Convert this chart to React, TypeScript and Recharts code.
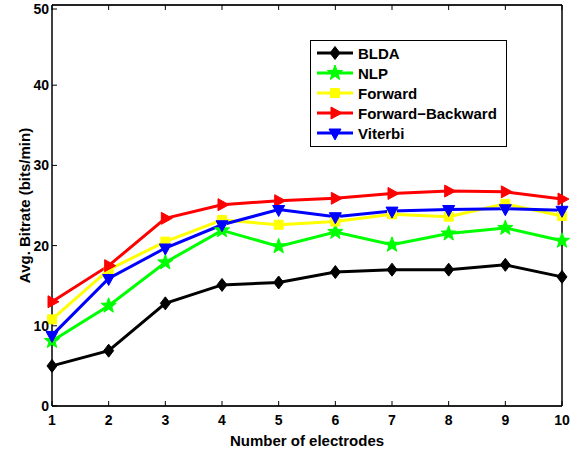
import { LineChart, Line, XAxis, YAxis, CartesianGrid } from 'recharts';

const ELECTRODES = [1, 2, 3, 4, 5, 6, 7, 8, 9, 10];
const BLDA = [5.0, 6.9, 12.8, 15.1, 15.4, 16.7, 17.0, 17.0, 17.6, 16.1];
const NLP = [8.1, 12.5, 17.9, 21.9, 19.9, 21.7, 20.1, 21.5, 22.2, 20.6];
const FORWARD = [10.8, 17.0, 20.5, 23.2, 22.6, 23.0, 23.9, 23.6, 25.2, 23.7];
const FORWARD_BACKWARD = [13.0, 17.5, 23.4, 25.1, 25.6, 25.9, 26.5, 26.8, 26.7, 25.8];
const VITERBI = [8.8, 15.9, 19.7, 22.6, 24.5, 23.6, 24.3, 24.5, 24.6, 24.4];
const Y_TICKS = [0, 10, 20, 30, 40, 50];

const FONT = 'Liberation Sans, Arial, Helvetica, sans-serif';

const data = ELECTRODES.map((n, i) => ({
  n,
  blda: BLDA[i],
  nlp: NLP[i],
  forward: FORWARD[i],
  fb: FORWARD_BACKWARD[i],
  viterbi: VITERBI[i],
}));

type Shape = 'diamond' | 'star' | 'square' | 'right' | 'down';

function markerPath(shape: Shape, cx: number, cy: number) {
  switch (shape) {
    case 'diamond':
      return `M${cx},${cy - 6.5}L${cx + 5},${cy}L${cx},${cy + 6.5}L${cx - 5},${cy}Z`;
    case 'square':
      return `M${cx - 4.5},${cy - 4.5}h9v9h-9Z`;
    case 'right':
      return `M${cx + 7},${cy}L${cx - 4},${cy - 6}L${cx - 4},${cy + 6}Z`;
    case 'down':
      return `M${cx},${cy + 7}L${cx - 6},${cy - 4}L${cx + 6},${cy - 4}Z`;
    case 'star': {
      const pts: string[] = [];
      for (let k = 0; k < 10; k++) {
        const r = k % 2 === 0 ? 8 : 3.3;
        const a = -Math.PI / 2 + (k * Math.PI) / 5;
        pts.push(`${cx + r * Math.cos(a)},${cy + r * Math.sin(a)}`);
      }
      return `M${pts.join('L')}Z`;
    }
  }
}

const SERIES: { key: string; name: string; color: string; shape: Shape }[] = [
  { key: 'blda', name: 'BLDA', color: '#000000', shape: 'diamond' },
  { key: 'nlp', name: 'NLP', color: '#00ff00', shape: 'star' },
  { key: 'forward', name: 'Forward', color: '#ffff00', shape: 'square' },
  { key: 'fb', name: 'Forward\u2212Backward', color: '#ff0000', shape: 'right' },
  { key: 'viterbi', name: 'Viterbi', color: '#0000ff', shape: 'down' },
];

const makeDot = (shape: Shape, color: string) => (props: any) => {
  const { cx, cy, index } = props;
  if (cx == null || cy == null) return <g key={index} />;
  return <path key={index} d={markerPath(shape, cx, cy)} fill={color} stroke={color} strokeWidth={1} />;
};

const BottomTick = (props: any) => {
  const { x, y, payload } = props;
  return (
    <g>
      <line x1={x} x2={x} y1={y} y2={y - 5} stroke="#000" strokeWidth={1} />
      <text x={x} y={y + 19} textAnchor="middle" fontFamily={FONT} fontWeight="bold" fontSize={14} fill="#000">
        {payload.value}
      </text>
    </g>
  );
};

const TopTick = (props: any) => {
  const { x, y } = props;
  return <line x1={x} x2={x} y1={y} y2={y + 5} stroke="#000" strokeWidth={1} />;
};

const LeftTick = (props: any) => {
  const { x, y, payload } = props;
  return (
    <g>
      <line x1={x} x2={x + 5} y1={y} y2={y} stroke="#000" strokeWidth={1} />
      <text x={x - 3} y={y + 5} textAnchor="end" fontFamily={FONT} fontWeight="bold" fontSize={14} fill="#000">
        {payload.value}
      </text>
    </g>
  );
};

const RightTick = (props: any) => {
  const { x, y } = props;
  return <line x1={x} x2={x - 5} y1={y} y2={y} stroke="#000" strokeWidth={1} />;
};

const LegendBox = () => (
  <div
    style={{
      position: 'absolute',
      left: 310,
      top: 40,
      border: '1.5px solid #000',
      background: '#fff',
      padding: '2px 6px 3px 6px',
      width: 197,
      boxSizing: 'border-box',
    }}
  >
    {SERIES.map((s) => (
      <div key={s.key} style={{ display: 'flex', alignItems: 'center', height: 20 }}>
        <svg width={36} height={16} style={{ marginRight: 5 }}>
          <line x1={0} x2={36} y1={8} y2={8} stroke={s.color} strokeWidth={3} />
          <path d={markerPath(s.shape, 18, 8)} fill={s.color} stroke={s.color} />
        </svg>
        <span style={{ fontFamily: FONT, fontWeight: 'bold', fontSize: 15, color: '#000', whiteSpace: 'nowrap' }}>
          {s.name}
        </span>
      </div>
    ))}
  </div>
);

export default function App() {
  return (
    <div style={{ position: 'absolute', left: 0, top: 0, width: 581, height: 454, background: '#fff' }}>
      <LineChart width={581} height={454} data={data} margin={{ top: 4, right: 18, bottom: 0, left: 0 }}>
        <CartesianGrid vertical={false} stroke="#222" strokeWidth={1} />
        <XAxis
          dataKey="n"
          type="number"
          domain={[1, 10]}
          ticks={ELECTRODES}
          xAxisId="bottom"
          height={48}
          tickSize={0}
          tickMargin={0}
          tick={<BottomTick />}
          axisLine={{ stroke: '#000', strokeWidth: 1.5 }}
          label={{
            value: 'Number of electrodes',
            position: 'insideBottom',
            offset: 8,
            style: { fontFamily: FONT, fontWeight: 'bold', fontSize: 15, fill: '#000' },
          }}
        />
        <XAxis
          dataKey="n"
          type="number"
          domain={[1, 10]}
          ticks={ELECTRODES}
          xAxisId="top"
          orientation="top"
          height={1}
          tickSize={0}
          tickMargin={0}
          tick={<TopTick />}
          axisLine={{ stroke: '#000', strokeWidth: 1.5 }}
        />
        <YAxis
          yAxisId="left"
          domain={[0, 50]}
          ticks={Y_TICKS}
          width={52}
          tickSize={0}
          tickMargin={0}
          tick={<LeftTick />}
          axisLine={{ stroke: '#000', strokeWidth: 1.5 }}
          label={{
            value: 'Avg. Bitrate (bits/min)',
            angle: -90,
            position: 'insideLeft',
            offset: 25,
            style: { textAnchor: 'middle', fontFamily: FONT, fontWeight: 'bold', fontSize: 15, fill: '#000' },
          }}
        />
        <YAxis
          yAxisId="right"
          orientation="right"
          domain={[0, 50]}
          ticks={Y_TICKS}
          width={1}
          tickSize={0}
          tickMargin={0}
          tick={<RightTick />}
          axisLine={{ stroke: '#000', strokeWidth: 1.5 }}
        />
        {SERIES.map((s) => (
          <Line
            key={s.key}
            xAxisId="bottom"
            yAxisId="left"
            type="linear"
            dataKey={s.key}
            name={s.name}
            stroke={s.color}
            strokeWidth={3}
            dot={makeDot(s.shape, s.color)}
            activeDot={false}
            isAnimationActive={false}
          />
        ))}
      </LineChart>
      <LegendBox />
    </div>
  );
}
